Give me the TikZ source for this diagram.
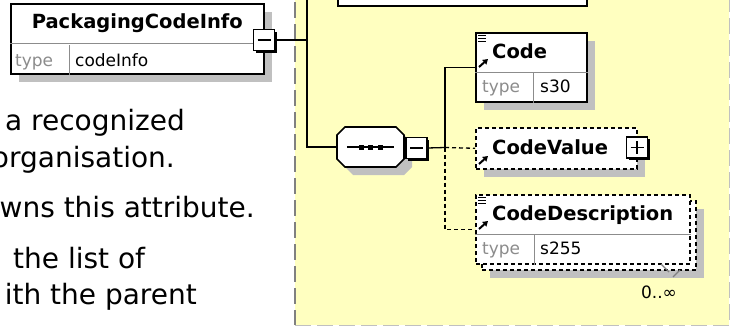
\documentclass[tikz,border=0pt]{standalone}
\usepackage{fontspec}
\setmainfont{DejaVu Sans}
\usetikzlibrary{shadows, arrows.meta}
\definecolor{groupyellow}{RGB}{255,255,192}
\definecolor{shadowgray}{RGB}{192,192,192}
\definecolor{typegray}{RGB}{140,140,140}
\definecolor{framegray}{RGB}{128,128,128}

\begin{document}
\begin{tikzpicture}[x=1pt, y=-1pt,
    group/.style={rectangle, fill=groupyellow, draw=none, anchor=north west, inner sep=0pt},
    box/.style={rectangle, draw=black, fill=white, line width=1.6pt, inner sep=0pt, anchor=north west},
    shadowed/.style={drop shadow={shadow xshift=8pt, shadow yshift=-8pt, fill=shadowgray, opacity=1}},
    elem/.style={box, shadowed},
    optbox/.style={box, dash pattern=on 4pt off 3pt},
    optelem/.style={optbox, shadowed},
    seqbox/.style={rectangle, draw=none, minimum width=67pt, minimum height=40pt, inner sep=0pt},
    ctrl/.style={rectangle, draw=black, fill=white, line width=1.3pt, minimum size=21pt, inner sep=0pt,
        drop shadow={shadow xshift=2pt, shadow yshift=-2pt, fill=black, opacity=1}},
    minusbox/.style={ctrl, path picture={
        \draw[line width=1.3pt] ([xshift=4pt]path picture bounding box.west) -- ([xshift=-4pt]path picture bounding box.east);}},
    plusbox/.style={ctrl, path picture={
        \draw[line width=1.3pt] ([xshift=4pt]path picture bounding box.west) -- ([xshift=-4pt]path picture bounding box.east);
        \draw[line width=1.3pt] ([yshift=-4pt]path picture bounding box.north) -- ([yshift=4pt]path picture bounding box.south);}},
    title/.style={font=\fontsize{19.5}{22}\selectfont\bfseries, inner sep=0pt},
    typetxt/.style={font=\fontsize{17}{20}\selectfont, text=typegray, inner sep=0pt, anchor=base west},
    valtxt/.style={font=\fontsize{17}{20}\selectfont, inner sep=0pt, anchor=base west},
    note/.style={font=\fontsize{28}{34}\selectfont, inner sep=0pt, anchor=base east},
    divider/.style={draw=typegray, line width=1pt},
    link/.style={line width=1.3pt},
    optlink/.style={link, dash pattern=on 4pt off 3pt},
    refarrow/.style={line width=2pt, -{Triangle[length=5pt, width=6pt]}},
    docmark/.style={line width=1pt}
]
    \useasboundingbox (0,0) rectangle (731,327);

    % Group background
    \node[group, minimum width=434pt, minimum height=345pt] (grp) at (295,-20) {};
    \draw[framegray, line width=1.5pt, dash pattern=on 16pt off 6pt] (grp.north west) -- (grp.south west);
    \draw[shadowgray, line width=1.5pt, dash pattern=on 16pt off 6pt] (grp.south west) -- (grp.south east) -- (grp.north east);

    % Left text
    \node[note] (n1) at (185,130) {a recognized};
    \node[note] (n2) at (175,167) {organisation.};
    \node[note] (n3) at (255,217) {wns this attribute.};
    \node[note, anchor=base west] (n4) at (13,268) {the list of};
    \node[note] (n5) at (197,304) {ith the parent};

    % Parent element
    \node[elem, minimum width=253pt, minimum height=70pt] (pkg) at (10,3) {};
    \draw[divider] ([yshift=-40pt]pkg.north west) -- ([yshift=-40pt]pkg.north east);
    \draw[divider] ([xshift=59pt]pkg.south west) -- ++(0,-30);
    \node[title] (pkgname) at ([yshift=-20pt]pkg.north) {PackagingCodeInfo};
    \node[typetxt] (pkgtype) at ([shift={(5pt,8pt)}]pkg.south west) {type};
    \node[valtxt] (pkgval) at ([shift={(65pt,8pt)}]pkg.south west) {codeInfo};
    \node[minusbox] (pkgctl) at (264,40) {};

    % Element above (cut off)
    \node[box, minimum width=249pt, minimum height=40pt] (upper) at (337,-35) {};

    % Sequence
    \node[seqbox] (seq) at (370.5,147) {};
    \fill[shadowgray] (353,135) -- (404,135) -- (412,143) -- (412,167) -- (404,175) -- (353,175) -- (345,167) -- (345,143) -- cycle;
    \filldraw[fill=white, line width=1.6pt] (345,127) -- (396,127) -- (404,135) -- (404,159) -- (396,167) -- (345,167) -- (337,159) -- (337,135) -- cycle;
    \draw[link] ([xshift=10pt]seq.west) -- ([xshift=-10pt]seq.east);
    \foreach \dx in {-9.5,0,9.5}
        \fill ([xshift=\dx pt]seq.center) +(-2.5,-2.5) rectangle +(2.5,2.5);
    \node[minusbox] (seqctl) at (416.5,148) {};

    % Children
    \node[elem, minimum width=111pt, minimum height=69pt] (code) at (475,32) {};
    \draw[divider] ([yshift=30pt]code.south west) -- ([yshift=30pt]code.south east);
    \draw[divider] ([xshift=58pt]code.south west) -- ++(0,-30);
    \node[title, anchor=base west] (codename) at (492,58) {Code};
    \node[typetxt] (codetype) at (482,92) {type};
    \node[valtxt] (codeval) at (540,92) {s30};

    \node[optelem, minimum width=161pt, minimum height=41pt] (cv) at (475,127) {};
    \node[title, anchor=base west] (cvname) at (492,154.5) {CodeValue};
    \node[plusbox] (cvctl) at (637,147.5) {};

    \node[optelem, minimum width=214pt, minimum height=69pt] (cdback) at (481,200) {};
    \node[optbox, minimum width=214pt, minimum height=69pt] (cd) at (475,194) {};
    \draw[divider] ([yshift=30pt]cd.south west) -- ([yshift=30pt]cd.south east);
    \draw[divider] ([xshift=59pt]cd.south west) -- ++(0,-30);
    \node[title, anchor=base west] (cdname) at (492,220) {CodeDescription};
    \node[typetxt] (cdtype) at (482,254) {type};
    \node[valtxt] (cdval) at (540,254) {s255};
    \draw[framegray, line width=1.2pt] (661,264) -- (669,272) (680,270) -- (673,277);
    \node[valtxt, anchor=center] (cdcard) at (659,292) {0..∞};

    % Icons
    \foreach \n in {code, cd} {
        \foreach \dy in {3,6,9}
            \draw[docmark] ([shift={(3pt,-\dy pt)}]\n.north west) -- ++(8,0);
    }
    \draw[refarrow] (479,67) -- (488,59);
    \draw[refarrow] (479,164) -- (488,156);
    \draw[refarrow] (479,229) -- (488,221);

    % Connectors
    \coordinate (fork) at (307,40);
    \coordinate (topend) at (307,-5);
    \coordinate (jn) at (445,147.5);
    \draw[link] (pkgctl.east) -- (fork);
    \draw[link] (topend) |- (seq.west);
    \draw[link] (seqctl.east) -- (jn);
    \draw[link] (jn) |- (code.west);
    \draw[optlink] (jn) -- (cv.west);
    \draw[optlink] (jn) |- (cd.west);
\end{tikzpicture}
\end{document}
